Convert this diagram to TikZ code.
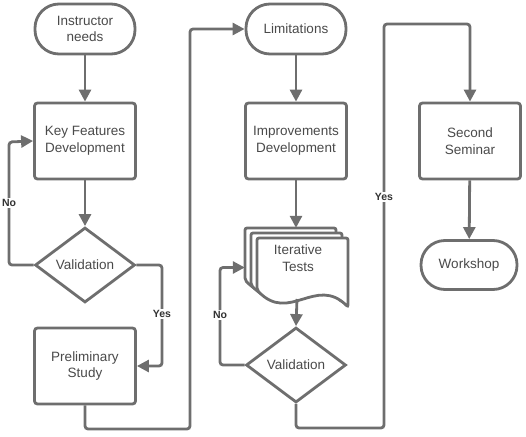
\documentclass[tikz,border=0pt]{standalone}
\usepackage{fontspec}
\setmainfont{Liberation Sans}
\usetikzlibrary{shapes.geometric,arrows.meta}
\definecolor{ln}{HTML}{6E6E6E}
\definecolor{tx}{HTML}{4A4A4A}
\tikzset{
  base/.style={draw=ln, line width=2.8pt, fill=white, text=tx, align=center,
    font=\fontsize{13.5}{16.5}\selectfont, inner sep=0pt},
  term/.style={base, rectangle, rounded corners=24pt, minimum width=100pt, minimum height=50pt},
  procbox/.style={base, rectangle, rounded corners=3pt, minimum width=101pt, minimum height=76pt},
  decide/.style={base, diamond, aspect=1.333, minimum width=100pt, minimum height=75pt},
  docsh/.style={draw=ln, line width=2.8pt, fill=white, rounded corners=2pt},
  conn/.style={draw=ln, line width=2.8pt, rounded corners=3pt},
  arr/.style={conn, -{Triangle[length=12pt, width=12pt]}},
  lab/.style={fill=white, text=black!80, inner sep=1pt, font=\bfseries\fontsize{10.5}{12}\selectfont}
}
\newcommand\mydocpath[2]{(#1,#2) -- (#1+91,#2) -- (#1+91,#2+69) .. controls (#1+59,#2+37) and (#1+32,#2+86) .. (#1,#2+52) -- cycle}
\begin{document}
\begin{tikzpicture}[x=1pt,y=-1pt]
\useasboundingbox (0,0) rectangle (526,436);
% column 1
\node[term] (inst) at (85,29) {Instructor\\needs};
\node[procbox] (key) at (85,141) {Key Features\\Development};
\node[decide] (val1) at (85,265) {Validation};
\node[procbox] (pre) at (85,366) {Preliminary\\Study};
% column 2
\node[term] (lim) at (296,29) {Limitations};
\node[procbox] (imp) at (296,141) {Improvements\\Development};
\draw[docsh] \mydocpath{245}{228};
\draw[docsh] \mydocpath{251}{233};
\draw[docsh] \mydocpath{257}{238};
\node[inner sep=0pt, minimum width=103pt, minimum height=79pt] (docs) at (296.5,267.5) {};
\node[text=tx, align=center, font=\fontsize{13.5}{16.5}\selectfont] (iter) at (298,258) {Iterative\\Tests};
\coordinate (docbot) at (297,299);
\node[decide] (val2) at (296,365) {Validation};
% column 3
\node[procbox] (sec) at (470,141) {Second\\Seminar};
\node[term, minimum width=96pt, minimum height=49pt] (work) at (469,265) {Workshop};
% turning points
\coordinate (n1a) at (9,265);
\coordinate (n1b) at (9,142);
\coordinate (y1a) at (162,265);
\coordinate (y1b) at (162,366);
\coordinate (p1) at (85,429);
\coordinate (p2) at (190,429);
\coordinate (p3) at (190,29);
\coordinate (n2a) at (220,365);
\coordinate (n2b) at (220,267.5);
\coordinate (y2a) at (296,428);
\coordinate (y2b) at (384,428);
\coordinate (y2c) at (384,24);
\coordinate (y2d) at (470,24);
% connectors
\draw[arr] (inst) -- (key);
\draw[arr] (key) -- (val1);
\draw[arr] (val1.west) -- (n1a) -- (n1b) -- (key.west);
\draw[arr] (val1.east) -- (y1a) -- (y1b) -- (pre.east);
\draw[arr] (pre.south) -- (p1) -- (p2) -- (p3) -- (lim.west);
\draw[arr] (lim) -- (imp);
\draw[arr] (imp.south) -- (docs.north -| imp.south);
\draw[arr] (docbot) -- (val2.north);
\draw[arr] (val2.west) -- (n2a) -- (n2b) -- (docs.west);
\draw[arr] (val2.south) -- (y2a) -- (y2b) -- (y2c) -- (y2d) -- (sec.north);
\draw[arr] (sec) -- (work);
% labels
\node[lab] (lno1) at (9,203) {No};
\node[lab] (lyes1) at (162,314) {Yes};
\node[lab] (lno2) at (220,315) {No};
\node[lab] (lyes2) at (384,197) {Yes};
\end{tikzpicture}
\end{document}
